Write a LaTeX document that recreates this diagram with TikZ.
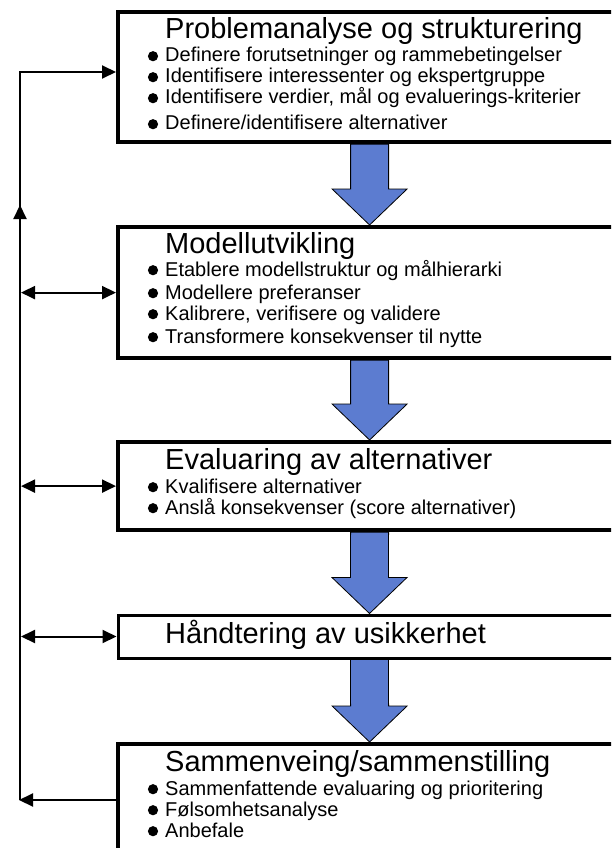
\documentclass[tikz,border=0pt]{standalone}
\usepackage{fontspec}
\setmainfont{Liberation Sans}
\usetikzlibrary{arrows.meta,calc}
\definecolor{flowblue}{RGB}{92,124,208}
\tikzset{
    stagebox/.style={draw, fill=white, line width=4.2pt, anchor=north west, minimum width=503pt, inner sep=0pt}, % rammer rundt hvert trinn
    dot/.style={circle, fill, inner sep=3.6pt},
    stagetitle/.style={anchor=base west, inner sep=0pt, font=\fontsize{29}{32}\selectfont},
    stageitem/.style={anchor=base west, inner sep=0pt, font=\fontsize{20}{22}\selectfont},
    link/.style={line width=2pt},
    onetip/.style={-{Triangle[length=14pt,width=13pt]}},
    twotips/.style={{Triangle[length=14pt,width=13pt]}-{Triangle[length=14pt,width=13pt]}},
    flowarrow/.style={fill=flowblue, draw=black, line width=0.8pt, line join=miter}
}

\begin{document}
\begin{tikzpicture}[x=1pt, y=-1pt]
            \useasboundingbox (0,0) rectangle (611,848);
            \clip (0,0) rectangle (611,848);

            % trinn
            \node[stagebox, minimum height=130pt] (prob) at (116,10) {};
            \node[stagebox, minimum height=131pt] (model) at (116,225) {};
            \node[stagebox, minimum height=88pt] (eval) at (116,440) {};
            \node[stagebox, minimum height=43pt, line width=3pt] (unc) at (116.5,613.5) {};
            \node[stagebox, minimum height=140pt] (synth) at (116,742) {};

            % blaa piler mellom trinnene
            \foreach \a/\b in {prob/model, model/eval, eval/unc, unc/synth} {
                \draw[flowarrow] ($(\a.south)+(-19,0)$) -- ($(\b.north)+(-19,-36)$) -- ($(\b.north)+(-37.5,-36)$) -- (\b.north)
                    -- ($(\b.north)+(37.5,-36)$) -- ($(\b.north)+(19,-36)$) -- ($(\a.south)+(19,0)$) -- cycle;
            }

            \node[stagetitle] (prob-title) at (165,39) {Problemanalyse og strukturering};
            \foreach \y/\txt [count=\i] in {62/Definere forutsetninger og rammebetingelser, 83/Identifisere interessenter og ekspertgruppe,
                104/{Identifisere verdier, mål og evaluerings-kriterier}, 130/{Definere/identifisere alternativer}} {
                \node[dot] (prob-dot-\i) at (153,\y-5.8) {};
                \node[stageitem] (prob-item-\i) at (165,\y) {\txt};
            }

            \node[stagetitle] (model-title) at (165,253) {Modellutvikling};
            \foreach \y/\txt [count=\i] in {276/Etablere modellstruktur og målhierarki, 299/Modellere preferanser,
                320/{Kalibrere, verifisere og validere}, 343/Transformere konsekvenser til nytte} {
                \node[dot] (model-dot-\i) at (153,\y-5.8) {};
                \node[stageitem] (model-item-\i) at (165,\y) {\txt};
            }

            \node[stagetitle] (eval-title) at (165,469) {Evaluaring av alternativer};
            \foreach \y/\txt [count=\i] in {493/Kvalifisere alternativer, 514/{Anslå konsekvenser (score alternativer)}} {
                \node[dot] (eval-dot-\i) at (153,\y-5.8) {};
                \node[stageitem] (eval-item-\i) at (165,\y) {\txt};
            }

            \node[stagetitle] (unc-title) at (165,643) {Håndtering av usikkerhet};

            \node[stagetitle] (synth-title) at (165,771) {Sammenveing/sammenstilling};
            \foreach \y/\txt [count=\i] in {795/Sammenfattende evaluaring og prioritering, 816/Følsomhetsanalyse, 837/Anbefale} {
                \node[dot] (synth-dot-\i) at (153,\y-5.8) {};
                \node[stageitem] (synth-item-\i) at (165,\y) {\txt};
            }

            % tilbakekobling langs venstre kant
            \coordinate (looptop) at (20,72);
            \coordinate (loopup) at (20,205);
            \coordinate (loopbot) at (20,800);
            \draw[link, onetip] (loopbot) -- (looptop) -- (looptop -| prob.west);
            \draw[link, onetip] (loopbot) -- (loopup);
            \foreach \n in {model, eval, unc} {\draw[link, twotips, shorten <=1pt] (loopbot |- \n.west) -- (\n.west);}
            \draw[link, onetip, shorten >=-1pt] (synth.west |- loopbot) -- (loopbot);
        \end{tikzpicture}
\end{document}
